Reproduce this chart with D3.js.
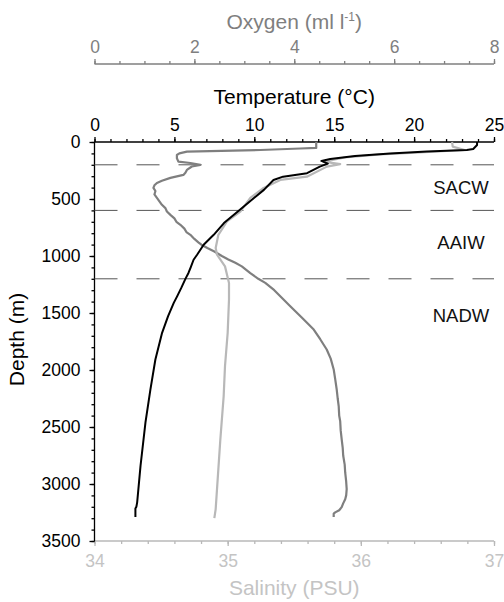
<!DOCTYPE html>
<html>
<head>
<meta charset="utf-8">
<script src="https://cdn.jsdelivr.net/npm/d3@7"></script>
<style>
  html, body { margin: 0; padding: 0; background: #fff; }
  svg { display: block; font-family: "Liberation Sans", Arial, sans-serif; }
</style>
</head>
<body>
<svg id="chart" width="504" height="602"></svg>
<script>
// ---- data ----
const tempDepth = [0, 26, 61, 70, 83, 101, 123, 149, 166, 190, 216, 274, 304, 333, 420, 493, 595, 711, 814, 901, 989, 1033, 1100, 1149, 1201, 1280, 1354, 1411, 1529, 1674, 1908, 2170, 2459, 2841, 3161, 3200, 3215, 3290];
const tempValues = [23.94, 23.94, 23.7, 23.3, 20.8, 18.5, 16.3, 14.75, 14.2, 14.6, 14.1, 13.3, 11.8, 11.2, 10.6, 9.96, 9.1, 8.1, 7.46, 6.83, 6.42, 6.2, 6.02, 5.88, 5.69, 5.43, 5.17, 4.96, 4.6, 4.23, 3.81, 3.5, 3.19, 2.88, 2.67, 2.62, 2.56, 2.56];

const salDepth = [0, 41, 70, 92, 109, 136, 172, 194, 216, 304, 333, 403, 490, 610, 697, 814, 930, 989, 1091, 1236, 1383, 1674, 1966, 2229, 2608, 3045, 3220, 3300];
const salValues = [36.685, 36.69, 36.78, 36.445, 36.145, 35.88, 35.72, 35.845, 35.745, 35.595, 35.395, 35.27, 35.17, 35.095, 34.995, 34.93, 34.91, 34.92, 34.98, 35.01, 35.01, 35.0, 34.98, 34.97, 34.945, 34.92, 34.91, 34.9];

const oxyDepth = [0, 52, 57, 70, 85, 100, 114, 143, 172, 184, 201, 215, 245, 270, 289, 315, 340, 359, 380, 403, 430, 460, 490, 520, 551, 580, 610, 639, 670, 700, 726, 760, 790, 814, 850, 880, 901, 930, 960, 1000, 1030, 1060, 1091, 1150, 1200, 1236, 1300, 1370, 1441, 1540, 1645, 1730, 1820, 1900, 1995, 2080, 2170, 2250, 2316, 2400, 2450, 2530, 2608, 2680, 2750, 2830, 2899, 2980, 3045, 3100, 3133, 3170, 3203, 3230, 3249, 3260, 3290];
const oxyValues = [4.44, 4.44, 4.12, 3.32, 1.85, 1.7, 1.65, 1.65, 1.68, 1.92, 2.12, 1.95, 1.85, 1.82, 1.78, 1.52, 1.35, 1.25, 1.2, 1.18, 1.22, 1.2, 1.25, 1.3, 1.35, 1.42, 1.45, 1.52, 1.6, 1.64, 1.72, 1.8, 1.84, 1.92, 2.0, 2.08, 2.14, 2.26, 2.4, 2.55, 2.68, 2.82, 2.95, 3.12, 3.28, 3.42, 3.6, 3.76, 3.92, 4.15, 4.39, 4.52, 4.65, 4.73, 4.79, 4.82, 4.85, 4.87, 4.89, 4.9, 4.92, 4.93, 4.95, 4.97, 4.98, 5.01, 5.02, 5.04, 5.05, 5.04, 5.02, 4.98, 4.95, 4.9, 4.82, 4.79, 4.79];

const waterMassBounds = [200, 600, 1200];
const waterMassLabels = ["SACW", "AAIW", "NADW"];
const waterMassLabelDepths = [400, 885, 1525];

const tempTicks = [0, 5, 10, 15, 20, 25];
const oxyTicks = [0, 2, 4, 6, 8];
const salTicks = [34, 35, 36, 37];
const depthTicks = [0, 500, 1000, 1500, 2000, 2500, 3000, 3500];

// ---- layout ----
const svg = d3.select("#chart");
const pL = 94.5, pR = 494, pT = 142, pB = 541;

const y = d3.scaleLinear().domain([0, 3500]).range([pT, pB]);
const xT = d3.scaleLinear().domain([0, 25]).range([pL, pR]);
const xO = d3.scaleLinear().domain([0, 8]).range([pL, pR]);
const xS = d3.scaleLinear().domain([34, 37]).range([pL, pR]);

const cBlack = "#000", cOxy = "#7f7f7f", cSal = "#b8b8b8", cSalText = "#c4c4c4";
const tickFont = 17.5, titleFont = 21;

function styleAxis(g, color, fontSize) {
  g.select(".domain").attr("stroke", color).attr("stroke-width", 1.3);
  g.selectAll(".tick line").attr("stroke", color).attr("stroke-width", 1.3);
  g.selectAll(".tick text").attr("fill", color).attr("font-size", fontSize)
    .attr("font-family", "Liberation Sans, Arial, sans-serif");
}
function range(a, b, s) { const r = []; for (let v = a; v <= b + 1e-9; v += s) r.push(+v.toFixed(4)); return r; }

// Oxygen axis (top-most)
const oxyY = 64;
const gOm = svg.append("g").attr("transform", `translate(0,${oxyY})`)
  .call(d3.axisTop(xO).tickValues(range(0, 8, 0.5)).tickSize(3).tickFormat(""));
styleAxis(gOm, cOxy, tickFont);
gOm.select(".domain").attr("d", `M${pL},0H${pR}`);
const gO = svg.append("g").attr("transform", `translate(0,${oxyY})`)
  .call(d3.axisTop(xO).tickValues(oxyTicks).tickSize(5).tickPadding(6).tickFormat(d3.format("d")));
styleAxis(gO, cOxy, tickFont);
gO.select(".domain").remove();

const oTitle = svg.append("text").attr("x", (pL + pR) / 2).attr("y", 29)
  .attr("text-anchor", "middle").attr("font-size", titleFont).attr("fill", cOxy);
oTitle.append("tspan").text("Oxygen (ml l");
oTitle.append("tspan").attr("dy", -8).attr("font-size", 12).text("-1");
oTitle.append("tspan").attr("dy", 8).text(")");

// Temperature axis (top of plot)
const gTm = svg.append("g").attr("transform", `translate(0,${pT})`)
  .call(d3.axisTop(xT).tickValues(range(0, 25, 1)).tickSize(3).tickFormat(""));
styleAxis(gTm, cBlack, tickFont);
gTm.select(".domain").attr("d", `M${pL},0H${pR}`);
const gT = svg.append("g").attr("transform", `translate(0,${pT})`)
  .call(d3.axisTop(xT).tickValues(tempTicks).tickSize(5).tickPadding(6).tickFormat(d3.format("d")));
styleAxis(gT, cBlack, tickFont);
gT.select(".domain").remove();
svg.append("text").attr("x", (pL + pR) / 2).attr("y", 104)
  .attr("text-anchor", "middle").attr("font-size", titleFont).attr("fill", cBlack)
  .text("Temperature (°C)");

// Salinity axis (bottom)
const gSm = svg.append("g").attr("transform", `translate(0,${pB})`)
  .call(d3.axisBottom(xS).tickValues(range(34, 37, 0.2)).tickSize(3).tickFormat(""));
styleAxis(gSm, cSal, tickFont);
gSm.select(".domain").attr("d", `M${pL},0H${pR}`);
const gS = svg.append("g").attr("transform", `translate(0,${pB})`)
  .call(d3.axisBottom(xS).tickValues(salTicks).tickSize(5).tickPadding(9).tickFormat(d3.format("d")));
styleAxis(gS, cSal, tickFont);
gS.selectAll(".tick text").attr("fill", cSalText);
gS.select(".domain").remove();
svg.append("text").attr("x", (pL + pR) / 2).attr("y", 595)
  .attr("text-anchor", "middle").attr("font-size", titleFont).attr("fill", cSalText)
  .text("Salinity (PSU)");

// Depth axis (left)
const gDm = svg.append("g").attr("transform", `translate(${pL},0)`)
  .call(d3.axisLeft(y).tickValues(range(0, 3500, 100)).tickSize(3).tickFormat(""));
styleAxis(gDm, cBlack, tickFont);
gDm.select(".domain").attr("d", `M0,${pT}V${pB}`);
const gD = svg.append("g").attr("transform", `translate(${pL},0)`)
  .call(d3.axisLeft(y).tickValues(depthTicks).tickSize(5).tickPadding(9).tickFormat(d3.format("d")));
styleAxis(gD, cBlack, tickFont);
gD.select(".domain").remove();
svg.append("text")
  .attr("transform", `translate(24,${(pT + pB) / 2 - 2}) rotate(-90)`)
  .attr("text-anchor", "middle").attr("font-size", titleFont).attr("fill", cBlack)
  .text("Depth (m)");

// Water-mass boundaries
svg.append("g").selectAll("line").data(waterMassBounds).join("line")
  .attr("x1", pL).attr("x2", pR)
  .attr("y1", d => y(d)).attr("y2", d => y(d))
  .attr("stroke", "#555").attr("stroke-width", 1)
  .attr("stroke-dasharray", "23,19");

svg.append("g").selectAll("text").data(waterMassLabels).join("text")
  .attr("x", 461).attr("y", (d, i) => y(waterMassLabelDepths[i]))
  .attr("dy", "0.35em").attr("text-anchor", "middle")
  .attr("font-size", 18.5).attr("fill", "#111").text(d => d);

// Profiles
const lineO = d3.line().x(d => xO(d[1])).y(d => y(d[0]));
const lineS = d3.line().x(d => xS(d[1])).y(d => y(d[0]));
const lineT = d3.line().x(d => xT(d[1])).y(d => y(d[0]));

svg.append("path").datum(oxyDepth.map((d, i) => [d, oxyValues[i]]))
  .attr("d", lineO).attr("fill", "none").attr("stroke", cOxy).attr("stroke-width", 2.2)
  .attr("stroke-linejoin", "round");
svg.append("path").datum(salDepth.map((d, i) => [d, salValues[i]]))
  .attr("d", lineS).attr("fill", "none").attr("stroke", cSal).attr("stroke-width", 2.2)
  .attr("stroke-linejoin", "round");
svg.append("path").datum(tempDepth.map((d, i) => [d, tempValues[i]]))
  .attr("d", lineT).attr("fill", "none").attr("stroke", cBlack).attr("stroke-width", 2)
  .attr("stroke-linejoin", "round");
</script>
</body>
</html>
